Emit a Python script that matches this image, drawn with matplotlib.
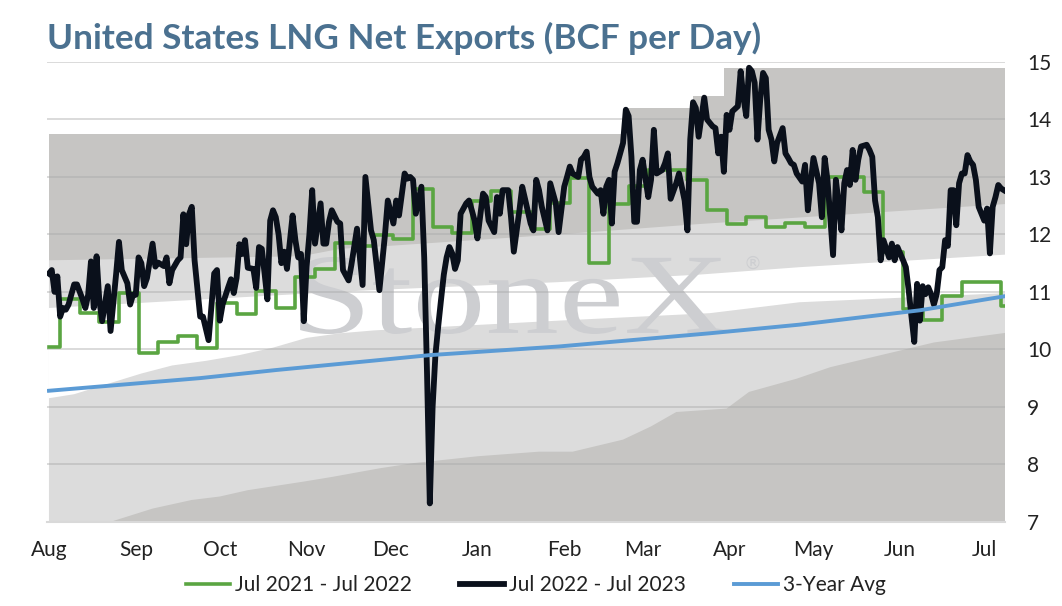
import numpy as np
import pandas as pd
import matplotlib
matplotlib.use("Agg")
import matplotlib.pyplot as plt
import matplotlib.dates as mdates
from matplotlib.lines import Line2D
from matplotlib.textpath import TextPath
from matplotlib.patches import PathPatch
from matplotlib.font_manager import FontProperties
from matplotlib.transforms import Affine2D

plt.rcParams['font.family'] = ['Lato', 'DejaVu Sans']

W, H = 1062, 606
start = pd.Timestamp('2022-08-01')
end_day = 341.4

# Jul 2021 - Jul 2022: weekly values (first from Aug 1, then changes every 7 days from day 4)
green_vals = [10.04, 10.88, 10.63, 10.48, 10.98, 9.94, 10.13, 10.23, 10.02, 10.81,
              10.61, 11.02, 10.72, 11.26, 11.40, 11.85, 11.80, 11.99, 11.92, 12.79,
              12.13, 12.02, 12.58, 12.76, 12.39, 12.09, 12.55, 12.98, 11.50, 12.53,
              12.85, 13.12, 13.12, 12.95, 12.42, 12.18, 12.31, 12.13, 12.20, 12.13,
              13.00, 13.00, 12.74, 11.70, 10.70, 10.51, 10.93, 11.18, 11.18, 10.75]
green_days = [0] + [4 + 7 * k for k in range(len(green_vals) - 1)]

# Jul 2022 - Jul 2023: day offsets from Aug 1 and values
black_days = [0, 1, 2, 3, 4, 5, 6, 7, 9, 10, 12, 13, 14, 15, 16, 17, 18, 19, 21, 22,
              24, 25, 26, 28, 29, 30, 31, 32, 33, 34, 35, 37, 38, 39, 41, 42, 43, 44, 46, 47,
              48, 49, 50, 51, 52, 54, 55, 57, 58, 59, 60, 61, 62, 64, 65, 66, 67, 68, 69, 70,
              71, 73, 74, 75, 76, 77, 78, 79, 80, 81, 82, 83, 84, 85, 87, 88, 89, 90, 91, 92,
              93, 94, 95, 97, 98, 99, 100, 101, 103, 104, 105, 107, 108, 110, 112, 113, 115, 116, 118, 120,
              121, 123, 124, 125, 127, 128, 129, 130, 131, 133, 134, 135, 136, 137, 138, 139, 140, 141, 142, 143,
              144, 145, 146, 147, 149, 150, 151, 152, 153, 155, 156, 157, 159, 160, 161, 162, 164, 165, 166, 168,
              169, 170, 172, 173, 174, 175, 176, 178, 179, 181, 182, 184, 185, 186, 187, 189, 190, 191, 192, 193,
              194, 196, 197, 198, 199, 200, 201, 202, 203, 205, 206, 207, 208, 209, 210, 211, 212, 214, 215, 216,
              217, 219, 220, 221, 222, 224, 225, 227, 228, 229, 230, 231, 232, 234, 235, 237, 238, 239, 240, 241,
              242, 243, 244, 246, 247, 248, 249, 250, 251, 252, 253, 254, 255, 256, 257, 258, 259, 260, 262, 263,
              264, 265, 266, 267, 269, 270, 271, 272, 273, 275, 276, 277, 278, 280, 281, 282, 283, 284, 285, 286,
              287, 288, 289, 290, 292, 293, 294, 295, 296, 297, 298, 300, 301, 302, 303, 305, 306, 307, 308, 309,
              310, 311, 312, 313, 314, 315, 316, 317, 318, 319, 320, 321, 322, 323, 324, 325, 326, 327, 328, 329,
              330, 331, 332, 334, 335, 336, 337, 338, 339, 340, 341]
black_vals = [11.32, 11.38, 11.00, 11.27, 10.57, 10.72, 10.69, 10.78, 11.13, 11.13, 10.87, 10.72, 10.95, 11.53, 10.72, 11.62, 10.84, 10.49, 11.10, 10.32,
              11.32, 11.87, 11.38, 11.15, 10.78, 10.95, 10.95, 11.60, 11.50, 11.10, 11.24, 11.84, 11.44, 11.51, 11.45, 11.60, 11.15, 11.38, 11.55, 11.60,
              12.35, 11.83, 12.35, 12.48, 11.55, 10.57, 10.57, 10.16, 10.74, 11.32, 11.38, 10.50, 10.78, 11.08, 11.22, 10.98, 11.24, 11.83, 11.66, 11.90,
              11.42, 11.40, 11.07, 11.78, 11.75, 11.32, 10.87, 12.24, 12.42, 12.30, 12.00, 11.50, 11.70, 11.40, 12.33, 11.90, 11.60, 11.66, 10.49, 11.44,
              12.00, 12.77, 11.84, 12.54, 11.84, 11.84, 12.22, 12.42, 12.22, 12.19, 11.38, 11.20, 11.47, 12.10, 11.12, 13.00, 12.07, 11.90, 11.03, 12.00,
              12.59, 12.19, 12.59, 12.33, 13.06, 12.97, 13.00, 12.95, 12.36, 12.83, 11.60, 9.60, 7.32, 9.00, 9.90, 10.40, 10.86, 11.30, 11.60, 11.78,
              11.67, 11.40, 11.55, 12.36, 12.54, 12.59, 12.42, 12.24, 11.93, 12.71, 12.65, 12.24, 12.04, 12.65, 12.36, 12.77, 12.77, 12.30, 11.70, 12.42,
              12.83, 12.62, 12.19, 12.07, 12.95, 12.77, 12.48, 12.07, 12.89, 12.54, 12.04, 12.83, 13.00, 13.18, 13.06, 13.00, 13.30, 13.35, 13.44, 13.00,
              12.83, 12.71, 12.77, 12.36, 12.83, 12.95, 12.19, 13.09, 13.24, 13.59, 14.17, 14.06, 13.35, 12.22, 12.22, 13.12, 13.30, 12.65, 12.95, 13.82,
              13.06, 13.12, 13.24, 13.41, 12.62, 12.89, 13.06, 12.59, 12.07, 13.65, 14.30, 14.20, 13.70, 14.38, 14.00, 13.88, 13.85, 13.41, 13.70, 13.09,
              14.08, 13.82, 14.14, 14.23, 14.84, 14.38, 14.06, 14.90, 14.84, 14.64, 13.65, 14.35, 14.81, 14.72, 13.82, 13.65, 13.27, 13.59, 13.85, 13.41,
              13.33, 13.24, 13.21, 13.06, 12.92, 13.21, 12.42, 12.89, 13.33, 12.89, 12.30, 13.33, 12.95, 11.64, 12.95, 12.54, 12.07, 12.89, 13.12, 12.86,
              13.47, 12.95, 13.30, 13.53, 13.56, 13.47, 13.35, 12.59, 12.30, 11.55, 11.90, 11.60, 11.84, 11.55, 11.78, 11.55, 11.43, 11.03, 10.57, 10.13,
              11.14, 10.50, 11.10, 10.96, 11.08, 10.96, 10.78, 10.96, 11.38, 11.43, 11.90, 11.80, 12.77, 12.77, 12.16, 12.89, 13.06, 13.06, 13.38, 13.27,
              13.21, 12.95, 12.48, 12.24, 12.45, 11.67, 12.48, 12.65, 12.86, 12.80, 12.77]

# 3-year average
avg_days = [0, 54, 81, 115, 136, 182, 236, 268, 311, 342]
avg_vals = [9.28, 9.50, 9.64, 9.80, 9.90, 10.05, 10.28, 10.43, 10.68, 10.93]

# range shading boundaries (bottom to top)
min_days = [0, 22, 37, 51, 61, 71, 91, 101, 118, 130, 153, 175, 187, 205, 215, 224, 242, 250, 267, 279, 291, 304, 316, 342]
min_vals = [6.6, 7.0, 7.23, 7.38, 7.44, 7.55, 7.7, 7.78, 7.93, 8.02, 8.14, 8.22, 8.22, 8.43, 8.66, 8.91, 8.97, 9.26, 9.49, 9.69, 9.83, 9.98, 10.12, 10.29]
low_days = [0, 9, 21, 33, 44, 56, 68, 80, 92, 104, 116, 182, 236, 268, 342]
low_vals = [9.15, 9.22, 9.40, 9.58, 9.72, 9.80, 9.90, 10.03, 10.20, 10.28, 10.33, 10.50, 10.63, 10.82, 10.98]
high_days = [0, 92, 115, 182, 232, 268, 342]
high_vals = [10.72, 10.97, 11.03, 11.17, 11.30, 11.43, 11.65]
upper_days = [0, 90, 104, 115, 182, 232, 342]
upper_vals = [11.55, 11.62, 11.75, 11.78, 12.00, 12.18, 12.53]
max_days = [0, 206, 230, 241]
max_vals = [13.75, 14.20, 14.40, 14.90]

y_ticks = [7, 8, 9, 10, 11, 12, 13, 14, 15]

base = mdates.date2num(start)


def dx(days):
    return base + np.asarray(days, dtype=float)


fig = plt.figure(figsize=(W / 100, H / 100), dpi=100)
ax = fig.add_axes([47 / W, 1 - 521.8 / H, (1005 - 47) / W, (521.8 - 62) / H])

# shading: painter's order dark -> light -> white
mx = np.repeat(max_days + [342], 2)[1:-1]
my = np.repeat(max_vals, 2)
ax.fill(np.concatenate([dx([0, 342]), dx(mx[::-1])]),
        np.concatenate([[6.0, 6.0], my[::-1]]), color='#c6c5c3', lw=0, zorder=1)
ax.fill(np.concatenate([dx(min_days), dx(upper_days[::-1])]),
        np.concatenate([min_vals, upper_vals[::-1]]), color='#dcdcdc', lw=0, zorder=1.05)
ax.fill(np.concatenate([dx(low_days), dx(high_days[::-1])]),
        np.concatenate([low_vals, high_vals[::-1]]), color='white', lw=0, zorder=1.1)

# watermark
tp = TextPath((0, 0), "StoneX", size=100, prop=FontProperties(family='Liberation Serif'))
ext = tp.get_extents()
wm = (Affine2D().translate(-ext.x0, -ext.y0)
      .scale(427 / ext.width, 77 / ext.height)
      .translate(300, H - 334).scale(1 / W, 1 / H) + fig.transFigure)
ax.add_patch(PathPatch(tp, transform=wm, color='#cdced1', lw=0, zorder=1.2))
ax.text(752 / W, 1 - 264 / H, "\u00ae", transform=fig.transFigure, fontsize=13,
        color='#cdced1', ha='center', va='center', family='DejaVu Sans', zorder=1.2)

# series
ax.plot(dx(green_days + [end_day + 1]), green_vals + [green_vals[-1]],
        drawstyle='steps-post', color='#5aa542', lw=2.6, zorder=3)
ax.plot(dx(black_days), black_vals, color='#0a101b', lw=4.2, zorder=3.1,
        solid_joinstyle='round')
ax.plot(dx(avg_days), avg_vals, color='#5b9bd5', lw=2.8, zorder=3.2)

ax.set_xlim(base - 0.7, base + end_day)
ax.set_ylim(7, 15)
ax.set_yticks(y_ticks)
ax.yaxis.tick_right()
ax.xaxis.set_major_locator(mdates.MonthLocator())
ax.xaxis.set_major_formatter(mdates.DateFormatter('%b'))
ax.tick_params(axis='y', length=0, pad=16, labelsize=15, labelcolor='#222222')
ax.tick_params(axis='x', length=0, pad=13, labelsize=15, labelcolor='#222222')
for lab in ax.get_yticklabels():
    lab.set_ha('left')

ax.set_axisbelow('line')
ax.grid(axis='y', color='#a8a8a8', alpha=0.45, lw=1.3)
ax.grid(axis='x', visible=False)
for s in ['top', 'left', 'right']:
    ax.spines[s].set_visible(False)
ax.spines['bottom'].set_color('#d9d9d9')
ax.spines['bottom'].set_linewidth(1.5)

title = fig.text(47 / W, 1 - 49 / H, "United States LNG Net Exports (BCF per Day)",
                 fontsize=24, fontweight='bold', color='#4b7190', ha='left', va='baseline')
fig.canvas.draw()
tw = title.get_window_extent().width
title.set_fontsize(24 * 715 / tw)

handles = [Line2D([], [], color='#5aa542', lw=2.6),
           Line2D([], [], color='#0a101b', lw=4.2),
           Line2D([], [], color='#5b9bd5', lw=2.8)]
labels = ['Jul 2021 - Jul 2022', 'Jul 2022 - Jul 2023', '3-Year Avg']
fig.legend(handles, labels, loc='center', bbox_to_anchor=(536 / W, 1 - 585 / H), ncol=3,
           frameon=False, fontsize=15, handlelength=2.1, handletextpad=0.25,
           columnspacing=2.3, labelcolor='#222222')

fig.savefig('out.png', dpi=100)
